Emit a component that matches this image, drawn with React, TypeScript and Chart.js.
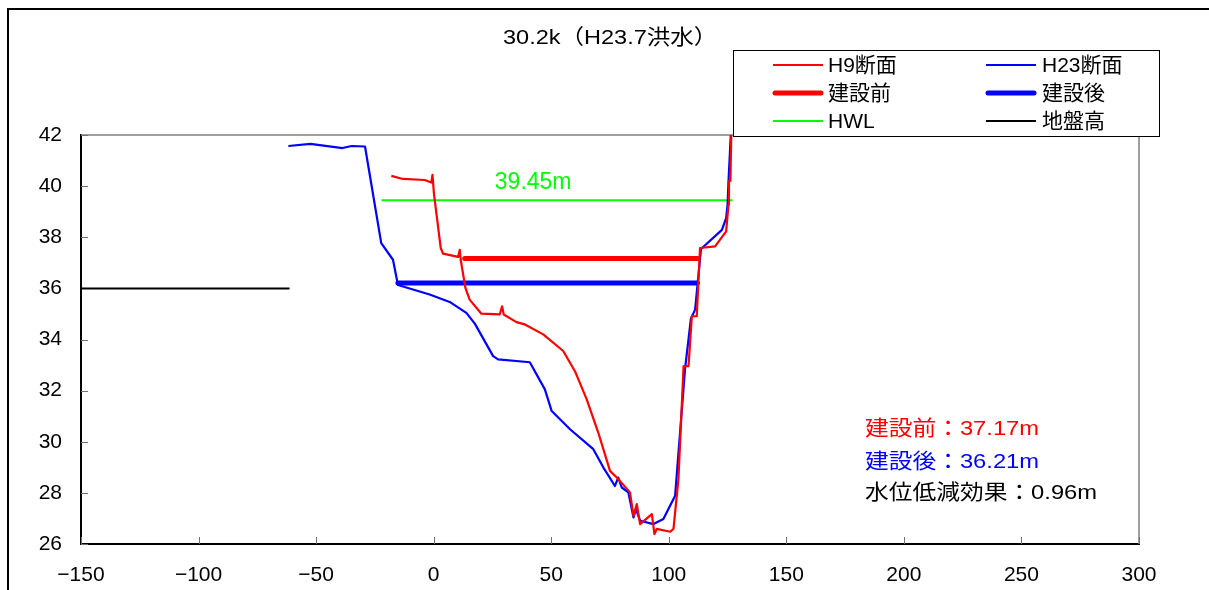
import React, { useEffect, useRef } from "react";
import { Chart, registerables } from "chart.js";

Chart.register(...registerables);

// ---------- data ----------
const TITLE = "30.2k（H23.7洪水）";

const h9X = [-18.0, -13.1, -3.8, -1.0, -0.5, 0.1, 3.0, 4.0, 10.4, 11.1, 11.5, 13.5, 15.3, 20.3, 28.1, 29.1, 29.8, 35.2, 38.8, 46.6, 55.1, 60.1, 65.1, 70.0, 75.0, 77.9, 83.5, 85.0, 86.4, 87.8, 92.8, 93.9, 94.9, 100.6, 102.0, 104.1, 106.3, 108.4, 109.8, 111.9, 113.3, 119.7, 124.4, 125.4, 125.6, 126.2, 126.8];
const h9Y = [40.40, 40.28, 40.24, 40.14, 40.44, 39.72, 37.58, 37.36, 37.23, 37.51, 37.12, 36.02, 35.56, 35.01, 34.98, 35.30, 34.98, 34.68, 34.59, 34.20, 33.55, 32.76, 31.66, 30.36, 28.86, 28.60, 28.02, 27.10, 27.56, 26.78, 27.17, 26.39, 26.59, 26.48, 26.59, 28.54, 32.96, 32.96, 34.91, 34.91, 37.58, 37.64, 38.23, 39.27, 40.20, 40.20, 43.0];

const h23X = [-61.8, -52.4, -38.8, -34.9, -29.2, -22.3, -17.3, -15.2, -1.7, 6.8, 13.9, 17.5, 25.3, 27.4, 40.9, 47.3, 50.2, 58.0, 67.9, 72.2, 77.1, 78.5, 80.0, 82.8, 85.0, 86.0, 87.8, 93.5, 97.7, 102.7, 106.9, 109.4, 111.2, 113.7, 122.6, 124.4, 125.0, 125.4, 126.9];
const h23Y = [41.57, 41.65, 41.49, 41.57, 41.55, 37.77, 37.12, 36.13, 35.76, 35.47, 35.04, 34.62, 33.35, 33.22, 33.11, 32.05, 31.20, 30.49, 29.71, 28.99, 28.27, 28.60, 28.21, 28.02, 27.04, 27.37, 26.91, 26.78, 26.98, 27.89, 32.83, 34.81, 35.17, 37.54, 38.29, 38.75, 39.27, 40.18, 43.0];

const levelBefore = 37.17;
const levelAfter = 36.21;
const hwlLevel = 39.45;
const groundLevel = 36;
const beforeRange = [13.2, 112.3];
const afterRange = [-15.2, 112.2];
const hwlRange = [-22.2, 127.1];
const groundRange = [-150, -61.3];

const seriesLabels = ["H9断面", "H23断面", "建設前", "建設後", "HWL", "地盤高"];

const xMin = -150, xMax = 300, xStep = 50;
const yMin = 26, yMax = 42, yStep = 2;

// ---------- helpers ----------
const FONT = '"Liberation Sans", "Noto Sans CJK JP", sans-serif';

const pts = (xs: number[], ys: number[]) => xs.map((x, i) => ({ x, y: ys[i] }));
const hline = (range: number[], y: number) => [{ x: range[0], y }, { x: range[1], y }];

function drawText(ctx: CanvasRenderingContext2D, text: string, left: number, cy: number, size: number, color: string, sx = 1) {
  ctx.save();
  ctx.font = `${size}px ${FONT}`;
  ctx.fillStyle = color;
  ctx.textBaseline = "middle";
  ctx.textAlign = "left";
  ctx.translate(left, cy);
  ctx.scale(sx, 1);
  ctx.fillText(text, 0, 0);
  ctx.restore();
}

const decor = {
  id: "decor",
  beforeDraw(chart: any) {
    const ctx = chart.ctx as CanvasRenderingContext2D;
    ctx.save();
    ctx.fillStyle = "#fff";
    ctx.fillRect(0, 0, chart.width, chart.height);
    ctx.fillStyle = "#000";
    ctx.fillRect(7, 8, 2, chart.height - 8);
    ctx.fillRect(7, 8, chart.width - 7, 2);
    ctx.restore();
  },
  beforeDatasetsDraw(chart: any) {
    const ctx = chart.ctx as CanvasRenderingContext2D;
    const { left, right, top, bottom } = chart.chartArea;
    ctx.save();
    ctx.strokeStyle = "#808080";
    ctx.lineWidth = 1.5;
    ctx.beginPath();
    ctx.moveTo(left, top);
    ctx.lineTo(right, top);
    ctx.lineTo(right, bottom);
    ctx.stroke();
    ctx.lineWidth = 1;
    ctx.strokeStyle = "#707070";
    const ys = chart.scales.y;
    ys.ticks.forEach((t: any) => {
      const py = Math.round(ys.getPixelForValue(t.value)) + 0.5;
      ctx.beginPath();
      ctx.moveTo(left, py);
      ctx.lineTo(left + 7, py);
      ctx.stroke();
    });
    const xs = chart.scales.x;
    xs.ticks.forEach((t: any) => {
      const px = Math.round(xs.getPixelForValue(t.value)) + 0.5;
      ctx.beginPath();
      ctx.moveTo(px, bottom);
      ctx.lineTo(px, bottom - 7);
      ctx.stroke();
    });
    ctx.restore();
  },
  afterDraw(chart: any) {
    const ctx = chart.ctx as CanvasRenderingContext2D;
    const xs = chart.scales.x;
    const ys = chart.scales.y;

    // title
    drawText(ctx, TITLE, 503, 38, 21, "#000", 1.12);

    // legend box
    ctx.save();
    ctx.fillStyle = "#fff";
    ctx.fillRect(733, 50, 427, 87);
    ctx.strokeStyle = "#000";
    ctx.lineWidth = 1;
    ctx.strokeRect(733.5, 50.5, 426, 86);
    ctx.restore();
    const colLine = [773, 986];
    const colText = [828, 1042];
    const rowY = [65, 93, 121];
    chart.data.datasets.forEach((ds: any, i: number) => {
      const c = i % 2;
      const r = Math.floor(i / 2);
      const thick = ds.borderWidth > 3;
      ctx.save();
      ctx.strokeStyle = ds.borderColor;
      ctx.lineWidth = ds.borderWidth;
      ctx.lineCap = thick ? "round" : "butt";
      ctx.beginPath();
      ctx.moveTo(colLine[c] + (thick ? 2 : 0), rowY[r]);
      ctx.lineTo(colLine[c] + 50 - (thick ? 2 : 0), rowY[r]);
      ctx.stroke();
      ctx.restore();
      drawText(ctx, ds.label, colText[c], rowY[r] + 1, 21, "#000", 1);
    });

    // HWL label
    drawText(ctx, `${hwlLevel.toFixed(2)}m`, xs.getPixelForValue(26.0), ys.getPixelForValue(40.14), 23, "#00FF00", 1);

    // annotations
    const diff = levelBefore - levelAfter;
    drawText(ctx, `建設前：${levelBefore.toFixed(2)}m`, 865, 429, 21, "#FF0000", 1.13);
    drawText(ctx, `建設後：${levelAfter.toFixed(2)}m`, 865, 462, 21, "#0000FF", 1.13);
    drawText(ctx, `水位低減効果：${diff.toFixed(2)}m`, 865, 493, 21, "#000000", 1.13);
  },
};

const fmt = (v: number | string) => String(v).replace("-", "−");

export default function App() {
  const ref = useRef<HTMLCanvasElement>(null);
  useEffect(() => {
    const line = { showLine: true, pointRadius: 0, borderJoinStyle: "round" };
    const chart = new Chart(ref.current as HTMLCanvasElement, {
      type: "scatter",
      data: {
        datasets: [
          { ...line, label: seriesLabels[0], data: pts(h9X, h9Y), borderColor: "#FF0000", backgroundColor: "#FF0000", borderWidth: 2.2 },
          { ...line, label: seriesLabels[1], data: pts(h23X, h23Y), borderColor: "#0000FF", backgroundColor: "#0000FF", borderWidth: 2.2 },
          { ...line, label: seriesLabels[2], data: hline(beforeRange, levelBefore), borderColor: "#FF0000", backgroundColor: "#FF0000", borderWidth: 5, borderCapStyle: "round" },
          { ...line, label: seriesLabels[3], data: hline(afterRange, levelAfter), borderColor: "#0000FF", backgroundColor: "#0000FF", borderWidth: 5, borderCapStyle: "round" },
          { ...line, label: seriesLabels[4], data: hline(hwlRange, hwlLevel), borderColor: "#00FF00", backgroundColor: "#00FF00", borderWidth: 2 },
          { ...line, label: seriesLabels[5], data: hline(groundRange, groundLevel), borderColor: "#000000", backgroundColor: "#000000", borderWidth: 2 },
        ],
      } as any,
      options: {
        responsive: false,
        animation: false,
        devicePixelRatio: 1,
        layout: { padding: { top: 135, right: 70, left: 0, bottom: 0 } },
        plugins: {
          legend: { display: false },
          title: { display: false },
          tooltip: { enabled: false },
        },
        scales: {
          x: {
            type: "linear",
            min: xMin,
            max: xMax,
            ticks: { stepSize: xStep, padding: 19, color: "#000", font: { family: FONT, size: 21 }, callback: (v: any) => fmt(v) },
            grid: { display: false, drawTicks: false },
            border: { display: true, color: "#000", width: 2 },
            afterFit: (s: any) => { s.height = 46; },
          },
          y: {
            type: "linear",
            min: yMin,
            max: yMax,
            ticks: { stepSize: yStep, padding: 19, color: "#000", font: { family: FONT, size: 21 }, callback: (v: any) => fmt(v) },
            grid: { display: false, drawTicks: false },
            border: { display: true, color: "#000", width: 2 },
            afterFit: (s: any) => { s.width = 81; },
          },
        },
      } as any,
      plugins: [decor],
    });
    return () => chart.destroy();
  }, []);
  return (
    <canvas
      ref={ref}
      width={1209}
      height={590}
      style={{ position: "fixed", left: 0, top: 0, width: 1209, height: 590 }}
    />
  );
}
